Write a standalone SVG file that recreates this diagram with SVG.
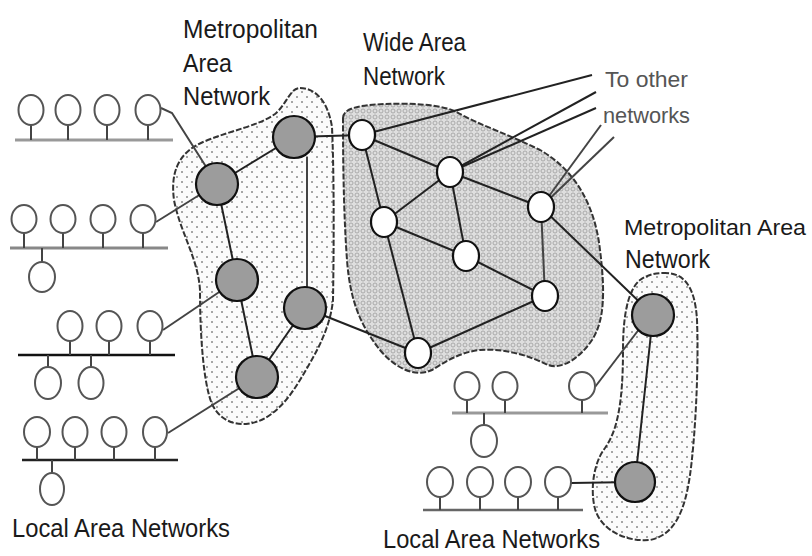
<svg xmlns="http://www.w3.org/2000/svg" width="812" height="556" viewBox="0 0 812 556">
<style>
.lbl{font-family:"Liberation Sans",Arial,sans-serif;font-size:25px;fill:#1a1a1a}
.lbl2{font-family:"Liberation Sans",Arial,sans-serif;font-size:22px;fill:#555}
.blob{stroke:#333;stroke-width:2;stroke-dasharray:6 2}
.man{fill:url(#dots)}
.wan{fill:url(#mesh)}
.gnode{fill:#9c9c9c;stroke:#111;stroke-width:2.2}
.wnode{fill:#fff;stroke:#111;stroke-width:2.2}
.st{fill:#fff;stroke:#555;stroke-width:2}
.stem{stroke:#444;stroke-width:2}
.ln{stroke:#222;stroke-width:2;fill:none}
.lg{stroke:#444;stroke-width:2;fill:none}
</style>
<defs>
<pattern id="dots" width="10" height="10" patternUnits="userSpaceOnUse"><rect width="10" height="10" fill="#fbfbfb"/><circle cx="2" cy="2" r="1" fill="#8a8a8a"/><circle cx="7" cy="7" r="1" fill="#8a8a8a"/></pattern>
<pattern id="mesh" width="6" height="6" patternUnits="userSpaceOnUse"><rect width="6" height="6" fill="#dedede"/><circle cx="3" cy="3" r="2" fill="none" stroke="#a4a4a4" stroke-width="0.9"/></pattern>
</defs>
<rect width="812" height="556" fill="#fff"/>

<g id="regions">
<path id="man-left" class="blob man" d="M300,88 C316,88 328,102 332,127 C334,170 334,240 333,300 C330,330 315,355 300,380 C285,405 268,422 246,424 C230,425 218,417 212,404 C204,385 200,340 200,290 C198,258 180,232 174,200 C170,170 180,152 203,142 C232,130 258,126 275,114 C287,104 290,88 300,88 Z"/>
<path id="wan" class="blob wan" d="M343,118 C343,108 360,105 385,104 C410,103 445,104 460,114 C480,125 510,135 540,150 C575,170 595,205 600,250 C605,290 605,320 592,340 C580,358 562,370 548,365 C530,356 505,348 480,350 C460,352 445,362 432,370 C415,378 395,368 380,350 C360,325 350,300 347,260 C344,220 343,170 343,118 Z"/>
<path id="man-right" class="blob man" d="M663,273 C683,272 695,285 697,320 C699,370 695,440 690,475 C685,510 675,535 650,540 C625,542 603,530 596,512 C590,495 592,465 605,448 C618,430 623,400 623,350 C623,315 628,290 640,280 C647,275 655,273 663,273 Z"/>
</g>

<g id="connectors">
<line class="ln" x1="294" y1="137" x2="217" y2="184"/>
<line class="lg" x1="307" y1="157" x2="307" y2="288"/>
<line class="ln" x1="217" y1="184" x2="237" y2="280"/>
<line class="ln" x1="237" y1="280" x2="257" y2="377"/>
<line class="ln" x1="305" y1="308" x2="257" y2="377"/>
<line class="ln" x1="294" y1="137" x2="362" y2="135"/>
<line class="ln" x1="305" y1="308" x2="418" y2="353"/>
<polyline class="lg" points="161,108 172,113 217,184"/>
<line class="lg" x1="156" y1="222" x2="217" y2="184"/>
<line class="lg" x1="163" y1="330" x2="237" y2="280"/>
<line class="lg" x1="168" y1="433" x2="257" y2="377"/>
<line class="ln" x1="362" y1="135" x2="450" y2="172"/>
<line class="ln" x1="362" y1="135" x2="384" y2="222"/>
<line class="ln" x1="384" y1="222" x2="418" y2="353"/>
<line class="ln" x1="450" y1="172" x2="384" y2="222"/>
<line class="ln" x1="450" y1="172" x2="466" y2="256"/>
<line class="ln" x1="450" y1="172" x2="541" y2="207"/>
<line class="ln" x1="384" y1="222" x2="466" y2="256"/>
<line class="ln" x1="466" y1="256" x2="545" y2="296"/>
<line class="lg" x1="541" y1="207" x2="545" y2="296" stroke="#777"/>
<line class="ln" x1="545" y1="296" x2="418" y2="353"/>
<line class="ln" x1="541" y1="207" x2="653" y2="315"/>
<line class="ln" x1="362" y1="135" x2="592" y2="75"/>
<line class="ln" x1="450" y1="172" x2="596" y2="92"/>
<line class="ln" x1="450" y1="172" x2="596" y2="108"/>
<line class="lg" x1="541" y1="207" x2="601" y2="125"/>
<line class="lg" x1="541" y1="207" x2="614" y2="137"/>
<line class="ln" x1="653" y1="315" x2="635" y2="482"/>
<line class="lg" x1="595" y1="387" x2="640" y2="328"/>
<line class="ln" x1="571" y1="483" x2="635" y2="482"/>
</g>

<g id="node-man-left-a"><circle class="gnode" cx="294" cy="137" r="21"/></g>
<g id="node-man-left-b"><circle class="gnode" cx="217" cy="184" r="21"/></g>
<g id="node-man-left-c"><circle class="gnode" cx="237" cy="280" r="21"/></g>
<g id="node-man-left-d"><circle class="gnode" cx="305" cy="308" r="21"/></g>
<g id="node-man-left-e"><circle class="gnode" cx="257" cy="377" r="21"/></g>

<g id="node-wan-1"><ellipse class="wnode" cx="362" cy="135" rx="13" ry="15"/></g>
<g id="node-wan-2"><ellipse class="wnode" cx="450" cy="172" rx="13" ry="15"/></g>
<g id="node-wan-3"><ellipse class="wnode" cx="384" cy="222" rx="13" ry="15"/></g>
<g id="node-wan-4"><ellipse class="wnode" cx="541" cy="207" rx="13" ry="15"/></g>
<g id="node-wan-5"><ellipse class="wnode" cx="466" cy="256" rx="13" ry="15"/></g>
<g id="node-wan-6"><ellipse class="wnode" cx="545" cy="296" rx="13" ry="15"/></g>
<g id="node-wan-7"><ellipse class="wnode" cx="418" cy="353" rx="13" ry="15"/></g>

<g id="node-man-right-1"><circle class="gnode" cx="653" cy="315" r="21"/></g>
<g id="node-man-right-2"><circle class="gnode" cx="635" cy="482" r="20"/></g>

<g id="lan-1">
<line x1="15" y1="140" x2="173" y2="140" stroke="#999" stroke-width="3"/>
<path class="stem" d="M31,125V140M68,125V140M107,125V140M148,125V140"/>
<ellipse class="st" cx="31" cy="110" rx="12.5" ry="15"/>
<ellipse class="st" cx="68" cy="110" rx="12.5" ry="15"/>
<ellipse class="st" cx="107" cy="110" rx="12.5" ry="15"/>
<ellipse class="st" cx="148" cy="110" rx="12.5" ry="15"/>
</g>
<g id="lan-2">
<line x1="10" y1="248" x2="168" y2="248" stroke="#888" stroke-width="3"/>
<path class="stem" d="M24,233V248M63,233V248M103,233V248M143,233V248M42,248V262"/>
<ellipse class="st" cx="24" cy="219" rx="12.5" ry="14"/>
<ellipse class="st" cx="63" cy="219" rx="12.5" ry="14"/>
<ellipse class="st" cx="103" cy="219" rx="12.5" ry="14"/>
<ellipse class="st" cx="143" cy="219" rx="12.5" ry="14"/>
<ellipse class="st" cx="42" cy="277" rx="13" ry="15"/>
</g>
<g id="lan-3">
<line x1="18" y1="355" x2="175" y2="355" stroke="#111" stroke-width="2.5"/>
<path class="stem" d="M70,341V355M109,341V355M150,341V355M48,355V368M91,355V368"/>
<ellipse class="st" cx="70" cy="326" rx="12.5" ry="15"/>
<ellipse class="st" cx="109" cy="326" rx="12.5" ry="15"/>
<ellipse class="st" cx="150" cy="326" rx="12.5" ry="15"/>
<ellipse class="st" cx="48" cy="383" rx="13" ry="16"/>
<ellipse class="st" cx="91" cy="383" rx="12.5" ry="16"/>
</g>
<g id="lan-4">
<line x1="22" y1="460" x2="178" y2="460" stroke="#222" stroke-width="2.5"/>
<path class="stem" d="M37,447V460M75,447V460M114,447V460M155,447V460M52,460V473"/>
<ellipse class="st" cx="37" cy="432" rx="13" ry="15"/>
<ellipse class="st" cx="75" cy="432" rx="12.5" ry="15"/>
<ellipse class="st" cx="114" cy="432" rx="12.5" ry="15"/>
<ellipse class="st" cx="155" cy="432" rx="12" ry="15"/>
<ellipse class="st" cx="52" cy="489" rx="12" ry="16"/>
</g>
<g id="lan-5">
<line x1="452" y1="413" x2="608" y2="413" stroke="#999" stroke-width="3"/>
<path class="stem" d="M467,400V413M505,400V413M582,400V413M484,413V425"/>
<ellipse class="st" cx="467" cy="386" rx="12.5" ry="14"/>
<ellipse class="st" cx="505" cy="386" rx="12.5" ry="14"/>
<ellipse class="st" cx="582" cy="386" rx="13" ry="14"/>
<ellipse class="st" cx="484" cy="441" rx="13" ry="16"/>
</g>
<g id="lan-6">
<line x1="423" y1="510" x2="583" y2="510" stroke="#666" stroke-width="2.5"/>
<path class="stem" d="M440,497V510M480,497V510M518,497V510M558,497V510"/>
<ellipse class="st" cx="440" cy="482" rx="13" ry="15"/>
<ellipse class="st" cx="480" cy="482" rx="13" ry="15"/>
<ellipse class="st" cx="518" cy="482" rx="13" ry="15"/>
<ellipse class="st" cx="558" cy="482" rx="13" ry="15"/>
</g>

<g id="labels">
<text class="lbl" x="183" y="38" textLength="135" lengthAdjust="spacingAndGlyphs">Metropolitan</text>
<text class="lbl" x="183" y="72" textLength="49" lengthAdjust="spacingAndGlyphs">Area</text>
<text class="lbl" x="183" y="105" textLength="87" lengthAdjust="spacingAndGlyphs">Network</text>
<text class="lbl" x="363" y="51" textLength="103" lengthAdjust="spacingAndGlyphs">Wide Area</text>
<text class="lbl" x="363" y="85" textLength="82" lengthAdjust="spacingAndGlyphs">Network</text>
<text class="lbl2" x="605" y="87" textLength="83" lengthAdjust="spacingAndGlyphs">To other</text>
<text class="lbl2" x="603" y="123" textLength="87" lengthAdjust="spacingAndGlyphs">networks</text>
<text class="lbl" x="624" y="235" style="font-size:22px" textLength="182" lengthAdjust="spacingAndGlyphs">Metropolitan Area</text>
<text class="lbl" x="625" y="268" textLength="85" lengthAdjust="spacingAndGlyphs">Network</text>
<text class="lbl" x="12" y="537" style="font-size:26px" textLength="218" lengthAdjust="spacingAndGlyphs">Local Area Networks</text>
<text class="lbl" x="383" y="548" style="font-size:26px" textLength="217" lengthAdjust="spacingAndGlyphs">Local Area Networks</text>
</g>
</svg>
